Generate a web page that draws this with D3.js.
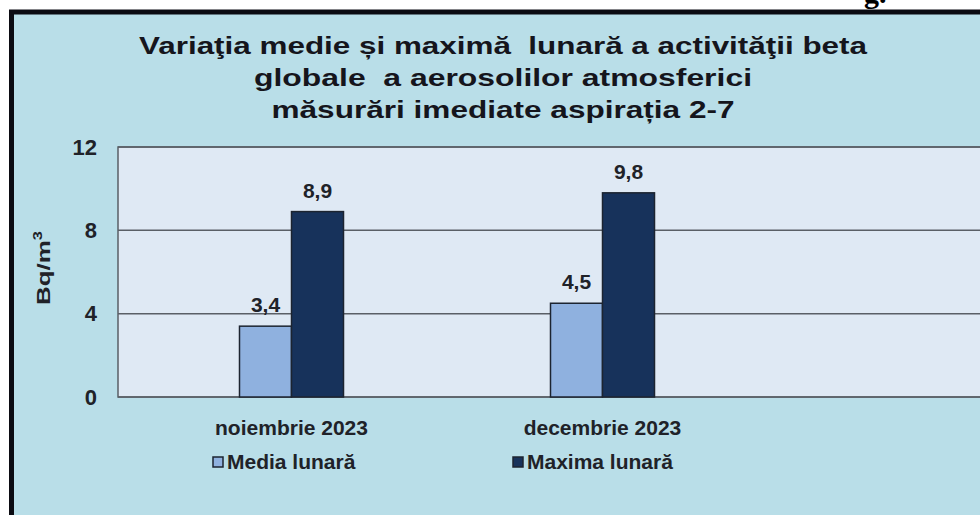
<!DOCTYPE html>
<html>
<head>
<meta charset="utf-8">
<script src="https://cdn.jsdelivr.net/npm/d3@7"></script>
<style>
  body { margin: 0; background: #fff; }
  svg { display: block; font-family: "Liberation Sans", Arial, sans-serif; }
</style>
</head>
<body>
<script>
// data
var categories = ["noiembrie 2023", "decembrie 2023"];
var seriesNames = ["Media lunară", "Maxima lunară"];
var mediaValues = [3.4, 4.5];
var maximaValues = [8.9, 9.8];
var valueLabels = [["3,4", "8,9"], ["4,5", "9,8"]];
var yTicks = [0, 4, 8, 12];
var titleLines = [
    "Variaţia medie și maximă  lunară a activităţii beta",
    "globale  a aerosolilor atmosferici",
    "măsurări imediate aspirația 2-7"
];

var width = 980, height = 515;
var colors = {media: "#8fb1df", maxima: "#17325b"};
var titleWidths = [728, 498, 463];

var svg = d3.select("body").append("svg")
        .attr("width", width)
        .attr("height", height);

// scraps of text from the page above the picture
svg.append("text")
        .attr("x", 864).attr("y", 3)
        .style("font-family", "Liberation Serif")
        .style("font-weight", "bold")
        .style("font-size", "30px")
        .text("g.");

// framed background
svg.append("rect")
        .attr("x", 11.5).attr("y", 12)
        .attr("width", 1000).attr("height", 600)
        .style("fill", "#b9dee8")
        .style("stroke", "#0b0b12")
        .style("stroke-width", 5);

// title
svg.append("g").selectAll("text")
        .data(titleLines)
        .enter().append("text")
        .attr("x", 503)
        .attr("y", function (d, i) { return 54 + i * 32; })
        .attr("text-anchor", "middle")
        .attr("textLength", function (d, i) { return titleWidths[i]; })
        .attr("lengthAdjust", "spacingAndGlyphs")
        .style("font-size", "24px")
        .style("font-weight", "bold")
        .style("fill", "#15151c")
        .style("white-space", "pre")
        .text(function (d) { return d; });

var plot = {left: 118, right: 990, top: 147, bottom: 397};

var y = d3.scaleLinear().domain([0, 12]).range([plot.bottom, plot.top]);
var x0 = d3.scaleBand().domain(categories).range([136, 758]);
var x1 = d3.scaleBand().domain(seriesNames).range([0, 104]);

// plot area
svg.append("rect")
        .attr("x", plot.left).attr("y", plot.top)
        .attr("width", plot.right - plot.left)
        .attr("height", plot.bottom - plot.top)
        .style("fill", "#dfe9f4")
        .style("stroke", "#5a5f66")
        .style("stroke-width", 1.5);

// gridlines
svg.append("g").selectAll("line")
        .data(yTicks)
        .enter().append("line")
        .attr("x1", plot.left).attr("x2", plot.right)
        .attr("y1", function (d) { return y(d); })
        .attr("y2", function (d) { return y(d); })
        .style("stroke", "#5a5f66")
        .style("stroke-width", 1.5);

// y axis labels
var yAxis = d3.axisLeft(y).tickValues(yTicks).tickSize(0).tickPadding(21);
var yAxisG = svg.append("g")
        .attr("transform", "translate(" + plot.left + ",0)")
        .call(yAxis);
yAxisG.select(".domain").remove();
yAxisG.selectAll("text")
        .style("font-family", "Liberation Sans")
        .style("font-size", "22px")
        .style("font-weight", "bold")
        .style("fill", "#202228");

// y title
var yTitle = svg.append("text")
        .attr("transform", "translate(50,268) rotate(-90)")
        .attr("text-anchor", "middle")
        .attr("textLength", 74)
        .attr("lengthAdjust", "spacingAndGlyphs")
        .style("font-size", "19px")
        .style("font-weight", "bold")
        .style("fill", "#202228");
yTitle.append("tspan").text("Bq/m");
yTitle.append("tspan").attr("dy", -8).style("font-size", "12px").text("3");

// bars
var rows = categories.map(function (c, i) {
    return [
        {cat: c, s: seriesNames[0], v: mediaValues[i], label: valueLabels[i][0], color: colors.media},
        {cat: c, s: seriesNames[1], v: maximaValues[i], label: valueLabels[i][1], color: colors.maxima}
    ];
});

var groups = svg.append("g").selectAll("g")
        .data(rows)
        .enter().append("g")
        .attr("transform", function (d) {
            return "translate(" + (x0(d[0].cat) + x0.bandwidth() / 2 - 52) + ",0)";
        });

groups.selectAll("rect")
        .data(function (d) { return d; })
        .enter().append("rect")
        .attr("x", function (d) { return x1(d.s); })
        .attr("y", function (d) { return y(d.v); })
        .attr("width", x1.bandwidth())
        .attr("height", function (d) { return y(0) - y(d.v); })
        .style("fill", function (d) { return d.color; })
        .style("stroke", "#1c2430")
        .style("stroke-width", 1.5);

groups.selectAll("text")
        .data(function (d) { return d; })
        .enter().append("text")
        .attr("x", function (d) { return x1(d.s) + x1.bandwidth() / 2; })
        .attr("y", function (d) { return y(d.v) - 14; })
        .attr("text-anchor", "middle")
        .style("font-size", "21px")
        .style("font-weight", "bold")
        .style("fill", "#202228")
        .text(function (d) { return d.label; });

// category labels
svg.append("g").selectAll("text")
        .data(categories)
        .enter().append("text")
        .attr("x", function (d) { return x0(d) + x0.bandwidth() / 2; })
        .attr("y", 435)
        .attr("text-anchor", "middle")
        .style("font-size", "21px")
        .style("font-weight", "bold")
        .style("fill", "#202228")
        .text(function (d) { return d; });

// legend
var legendX = [213, 513];
var legend = svg.append("g").selectAll("g")
        .data(seriesNames)
        .enter().append("g")
        .attr("transform", function (d, i) { return "translate(" + legendX[i] + ",457)"; });

legend.append("rect")
        .attr("width", 10).attr("height", 10)
        .style("fill", function (d, i) { return i ? colors.maxima : colors.media; })
        .style("stroke", "#1c2430")
        .style("stroke-width", 1.5);

legend.append("text")
        .attr("x", 14).attr("y", 12)
        .style("font-size", "21px")
        .style("font-weight", "bold")
        .style("fill", "#202228")
        .text(function (d) { return d; });
</script>
</body>
</html>
